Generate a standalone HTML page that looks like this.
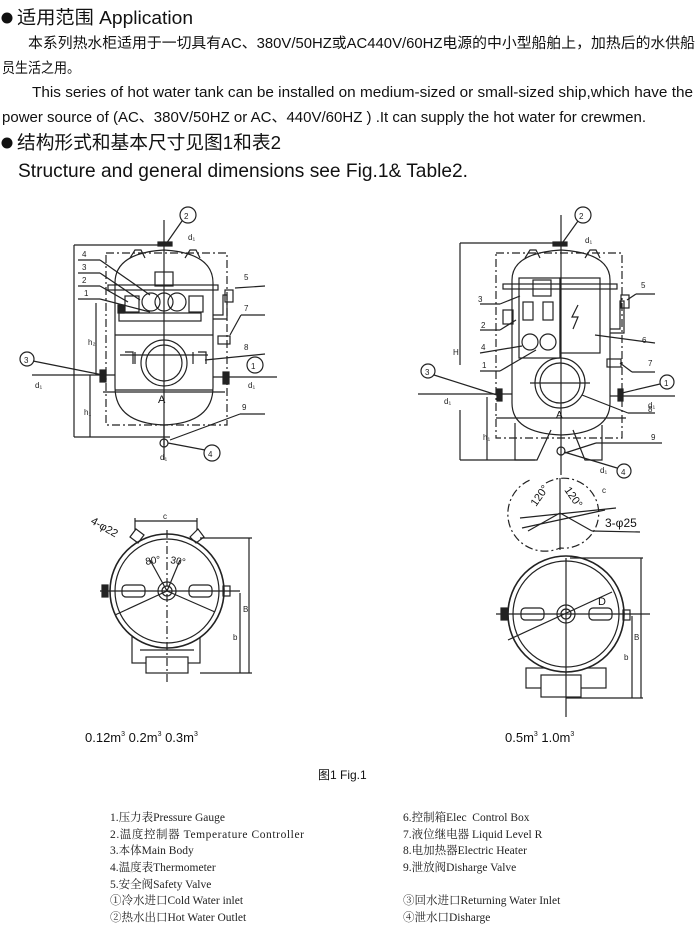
<!DOCTYPE html>
<html><head><meta charset="utf-8"><style>
html,body{margin:0;padding:0;background:#fff;}
svg{display:block;}
.s{font-family:"Liberation Sans","Noto Sans CJK SC",sans-serif;fill:#111;}
.r{font-family:"Liberation Serif","Noto Serif CJK SC",serif;fill:#222;font-size:11.5px;}
.l{font-family:"Liberation Sans",sans-serif;fill:#222;font-size:8px;}
line,path,rect,circle,ellipse,polyline{fill:none;stroke:#222;stroke-width:1.2;}
.d{stroke-dasharray:8 3 2 3;}
</style></head><body>
<svg width="700" height="926" viewBox="0 0 700 926">
<!-- header -->
<circle cx="7" cy="18" r="5.5" style="fill:#111;stroke:none"/>
<text class="s" x="17" y="24" font-size="18.5" textLength="176" lengthAdjust="spacingAndGlyphs">适用范围 Application</text>
<text class="s" x="28" y="48" font-size="14.5" textLength="667" lengthAdjust="spacingAndGlyphs">本系列热水柜适用于一切具有AC、380V/50HZ或AC440V/60HZ电源的中小型船舶上，加热后的水供船</text>
<text class="s" x="2" y="73" font-size="14.5" textLength="78" lengthAdjust="spacingAndGlyphs">员生活之用。</text>
<text class="s" x="32" y="97" font-size="14.5" textLength="661" lengthAdjust="spacingAndGlyphs">This series of hot water tank can be installed on medium-sized or small-sized ship,which have the</text>
<text class="s" x="2" y="122" font-size="14.5" textLength="644" lengthAdjust="spacingAndGlyphs">power source of (AC、380V/50HZ or AC、440V/60HZ ) .It can supply the hot water for crewmen.</text>
<circle cx="7" cy="143" r="5.5" style="fill:#111;stroke:none"/>
<text class="s" x="17" y="149" font-size="18.5" textLength="264" lengthAdjust="spacingAndGlyphs">结构形式和基本尺寸见图1和表2</text>
<text class="s" x="18" y="177" font-size="19.5" textLength="450" lengthAdjust="spacingAndGlyphs">Structure and general dimensions see Fig.1&amp; Table2.</text>

<!-- LEFT ELEVATION -->
<g>
<rect class="d" x="106" y="253" width="121" height="172"/>
<path d="M115 283 Q115 253 164 250 Q213 253 213 283 L213 387 Q213 423 164 425 Q115 423 115 387 Z"/>
<line x1="115" y1="335" x2="213" y2="335"/>
<line x1="115" y1="390" x2="213" y2="390"/>
<line x1="103" y1="392" x2="225" y2="392"/>
<path d="M130 258 l5 -8 h6 l4 8 M185 258 l5 -8 h6 l4 8"/>
<rect x="158" y="242" width="14" height="4" style="fill:#222"/>
<line x1="164" y1="220" x2="164" y2="460"/>
<line x1="74" y1="245" x2="164" y2="245"/>
<line x1="74" y1="245" x2="74" y2="437"/>
<line x1="74" y1="437" x2="170" y2="437"/>
<line x1="90" y1="375" x2="90" y2="437"/>
<line x1="96" y1="303" x2="96" y2="375"/>
<rect x="108" y="285" width="110" height="5"/>
<rect x="155" y="272" width="18" height="14"/>
<circle cx="151" cy="302" r="9"/><circle cx="164" cy="302" r="9"/><circle cx="177" cy="302" r="9"/>
<rect x="125" y="296" width="14" height="16"/><rect x="189" y="296" width="14" height="16"/>
<rect x="118" y="305" width="6" height="8" style="fill:#222"/>
<rect x="119" y="313" width="82" height="8"/>
<circle cx="164" cy="363" r="23"/><circle cx="164" cy="363" r="18"/>
<line x1="120" y1="355" x2="208" y2="355"/>
<path d="M125 352 h8 v12 M198 352 h8 v12 M135 352 v12 M193 352 v12"/>
<rect x="100" y="370" width="6" height="12" style="fill:#222"/>
<rect x="223" y="372" width="6" height="12" style="fill:#222"/>
<line x1="32" y1="375" x2="115" y2="375"/>
<line x1="213" y1="377" x2="277" y2="377"/>
<path d="M213 315 h10 v-20 h4 v24 h-14" /><rect x="225" y="290" width="8" height="12"/>
<rect x="218" y="336" width="12" height="8"/>
<line x1="164" y1="425" x2="164" y2="445"/>
<circle cx="164" cy="443" r="4"/>
<circle cx="188" cy="215" r="8"/><text class="l" x="184" y="219">2</text>
<line x1="182" y1="221" x2="166" y2="244"/>
<circle cx="212" cy="453" r="8"/><text class="l" x="208" y="457">4</text>
<line x1="205" y1="450" x2="168" y2="443"/>
<circle cx="255" cy="365" r="8"/><text class="l" x="251" y="369">1</text>
<circle cx="27" cy="359" r="7"/><text class="l" x="24" y="363">3</text>
<line x1="33" y1="361" x2="103" y2="375"/>
<text class="l" x="248" y="388">d₁</text>
<text class="l" x="188" y="240">d₁</text>
<text class="l" x="160" y="460">d₁</text>
<text class="l" x="35" y="388">d₁</text>
<text class="l" x="244" y="280">5</text><line x1="235" y1="288" x2="265" y2="286"/>
<text class="l" x="244" y="311">7</text><line x1="230" y1="335" x2="241" y2="315"/><line x1="241" y1="315" x2="265" y2="315"/>
<text class="l" x="244" y="350">8</text><line x1="205" y1="360" x2="265" y2="354"/>
<text class="l" x="242" y="410">9</text><line x1="170" y1="440" x2="240" y2="414"/><line x1="240" y1="414" x2="265" y2="414"/>
<text class="l" x="82" y="257">4</text><line x1="78" y1="260" x2="100" y2="260"/><line x1="100" y1="260" x2="150" y2="295"/>
<text class="l" x="82" y="270">3</text><line x1="78" y1="273" x2="100" y2="273"/><line x1="100" y1="273" x2="140" y2="300"/>
<text class="l" x="82" y="283">2</text><line x1="78" y1="286" x2="100" y2="286"/><line x1="100" y1="286" x2="128" y2="302"/>
<text class="l" x="84" y="296">1</text><line x1="78" y1="299" x2="100" y2="299"/><line x1="100" y1="299" x2="150" y2="312"/>
<text class="l" x="88" y="345">h₂</text><text class="l" x="84" y="415">h₁</text>
<text x="158" y="403" class="s" font-size="11">A</text>
</g>

<!-- RIGHT ELEVATION -->
<g>
<rect class="d" x="496" y="253" width="126" height="185"/>
<path d="M512 280 Q512 253 561 250 Q610 253 610 280 L610 403 Q610 433 561 435 Q512 433 512 403 Z"/>
<line x1="496" y1="418" x2="626" y2="418"/>
<path d="M515 423 v37 h22 l14 -30 M573 430 l12 30 h17 v-35"/>
<path d="M525 258 l5 -8 h6 l4 8 M585 258 l5 -8 h6 l4 8"/>
<rect x="553" y="242" width="14" height="4" style="fill:#222"/>
<line x1="561" y1="215" x2="561" y2="475"/>
<rect x="503" y="284" width="114" height="5"/>
<rect x="519" y="278" width="41" height="80"/>
<rect x="560" y="278" width="40" height="75"/>
<rect x="533" y="280" width="18" height="16"/>
<path d="M578 305 l-6 12 h6 l-5 12"/>
<rect x="523" y="302" width="10" height="18"/><rect x="543" y="302" width="10" height="18"/>
<circle cx="530" cy="342" r="8"/><circle cx="548" cy="342" r="8"/>
<rect x="503" y="310" width="10" height="14"/>
<circle cx="560" cy="383" r="25"/><circle cx="560" cy="383" r="20"/>
<line x1="530" y1="383" x2="590" y2="383"/>
<rect x="497" y="389" width="5" height="12" style="fill:#222"/>
<rect x="618" y="389" width="5" height="12" style="fill:#222"/>
<line x1="418" y1="394" x2="512" y2="394"/>
<line x1="610" y1="396" x2="675" y2="396"/>
<path d="M610 329 h10 v-28 h4 v32 h-14"/><rect x="621" y="295" width="8" height="13"/>
<rect x="607" y="359" width="14" height="8"/>
<line x1="460" y1="243" x2="561" y2="243"/>
<line x1="460" y1="243" x2="460" y2="365"/>
<line x1="460" y1="410" x2="460" y2="460"/>
<line x1="460" y1="460" x2="535" y2="460"/>
<line x1="487" y1="397" x2="487" y2="460"/>
<circle cx="561" cy="451" r="4"/>
<circle cx="583" cy="215" r="8"/><text class="l" x="579" y="219">2</text><line x1="578" y1="221" x2="563" y2="242"/>
<circle cx="428" cy="371" r="7"/><text class="l" x="425" y="375">3</text><line x1="434" y1="375" x2="497" y2="395"/>
<circle cx="667" cy="382" r="7"/><text class="l" x="664" y="386">1</text><line x1="660" y1="384" x2="622" y2="393"/>
<circle cx="624" cy="471" r="7"/><text class="l" x="621" y="475">4</text><line x1="617" y1="468" x2="564" y2="452"/>
<text class="l" x="453" y="355">H</text>
<text class="l" x="444" y="404">d₁</text><text class="l" x="648" y="408">d₁</text><text class="l" x="585" y="243">d₁</text><text class="l" x="600" y="473">d₁</text>
<text class="l" x="483" y="440">h₁</text>
<text x="556" y="418" class="s" font-size="10">A</text>
<text class="l" x="641" y="288">5</text><line x1="627" y1="300" x2="636" y2="294"/><line x1="636" y1="294" x2="655" y2="294"/>
<text class="l" x="642" y="343">6</text><line x1="595" y1="335" x2="655" y2="343"/>
<text class="l" x="648" y="366">7</text><line x1="620" y1="363" x2="632" y2="372"/><line x1="632" y1="372" x2="655" y2="372"/>
<text class="l" x="648" y="412">8</text><line x1="582" y1="395" x2="628" y2="413"/><line x1="628" y1="413" x2="655" y2="413"/>
<text class="l" x="651" y="440">9</text><line x1="565" y1="453" x2="596" y2="443"/><line x1="596" y1="443" x2="662" y2="443"/>
<text class="l" x="478" y="302">3</text><line x1="480" y1="304" x2="500" y2="304"/><line x1="500" y1="304" x2="520" y2="296"/>
<text class="l" x="481" y="328">2</text><line x1="480" y1="330" x2="500" y2="330"/><line x1="500" y1="330" x2="516" y2="320"/>
<text class="l" x="481" y="350">4</text><line x1="480" y1="353" x2="522" y2="346"/>
<text class="l" x="482" y="368">1</text><line x1="480" y1="371" x2="500" y2="371"/><line x1="500" y1="371" x2="536" y2="350"/>
</g>

<!-- LEFT PLAN -->
<g>
<rect x="132" y="637" width="68" height="26" style="fill:#fff"/>
<rect x="146" y="657" width="42" height="16" style="fill:#fff"/>
<line x1="140" y1="650" x2="194" y2="650"/>
<circle cx="167" cy="591" r="57" style="fill:#fff;stroke-width:1.6"/><circle cx="167" cy="591" r="52"/>
<line class="d" x1="167" y1="530" x2="167" y2="685"/>
<line x1="100" y1="591" x2="240" y2="591"/>
<circle cx="167" cy="591" r="9"/><circle cx="167" cy="591" r="5"/>
<rect x="122" y="585" width="23" height="12" rx="4"/><rect x="189" y="585" width="23" height="12" rx="4"/>
<rect x="102" y="585" width="6" height="12" style="fill:#222"/>
<rect x="223" y="586" width="7" height="10"/>
<line x1="167" y1="591" x2="150" y2="560"/><line x1="167" y1="591" x2="180" y2="560"/>
<line x1="167" y1="591" x2="115" y2="615"/><line x1="167" y1="591" x2="215" y2="612"/>
<path d="M130 537 l6 -8 l8 6 l-6 8 Z M190 537 l8 -8 l6 8 l-8 6 Z"/>
<line x1="135" y1="521" x2="197" y2="521"/><line x1="135" y1="518" x2="135" y2="530"/><line x1="197" y1="518" x2="197" y2="530"/>
<text class="l" x="163" y="519">c</text>
<text class="s" font-size="11" x="90" y="523" transform="rotate(30 90 523)">4-φ22</text>
<text class="s" font-size="10" x="146" y="565" transform="rotate(-10 146 565)">80°</text>
<text class="s" font-size="10" x="170" y="563" transform="rotate(10 170 563)">30°</text>
<line x1="200" y1="538" x2="252" y2="538"/><line x1="249" y1="538" x2="249" y2="673"/>
<line x1="240" y1="593" x2="240" y2="673"/><line x1="200" y1="673" x2="252" y2="673"/>
<text class="l" x="243" y="612">B</text><text class="l" x="233" y="640">b</text>
</g>

<!-- RIGHT PLAN -->
<g>
<path class="d" d="M546 483 A35 35 0 1 1 560 548 A35 35 0 0 1 530 480"/>
<line x1="560" y1="478" x2="560" y2="550"/>
<line x1="520" y1="518" x2="616" y2="508"/><line x1="522" y1="528" x2="605" y2="510"/>
<line x1="560" y1="513" x2="528" y2="531"/><line x1="560" y1="513" x2="592" y2="531"/>
<line x1="592" y1="531" x2="640" y2="532"/>
<text class="s" font-size="11" x="536" y="507" transform="rotate(-55 536 507)">120°</text>
<text class="s" font-size="11" x="564" y="490" transform="rotate(55 564 490)">120°</text>
<text class="l" x="602" y="493">c</text>
<text class="s" font-size="12" x="605" y="527">3-φ25</text>
<rect x="526" y="668" width="80" height="20" style="fill:#fff"/>
<rect x="541" y="675" width="40" height="22" style="fill:#fff"/>
<circle cx="566" cy="614" r="58" style="fill:#fff;stroke-width:1.6"/><circle cx="566" cy="614" r="53"/>
<line x1="566" y1="558" x2="566" y2="717"/>
<line x1="496" y1="614" x2="650" y2="614"/>
<circle cx="566" cy="614" r="9"/><circle cx="566" cy="614" r="5"/>
<rect x="521" y="608" width="23" height="12" rx="4"/><rect x="589" y="608" width="23" height="12" rx="4"/>
<rect x="501" y="608" width="6" height="12" style="fill:#222"/>
<rect x="623" y="610" width="7" height="10"/>
<line x1="508" y1="640" x2="612" y2="592"/>
<text class="s" font-size="11" x="598" y="605">D</text>
<line x1="570" y1="558" x2="643" y2="558"/><line x1="641" y1="558" x2="641" y2="698"/>
<line x1="632" y1="616" x2="632" y2="698"/><line x1="566" y1="698" x2="643" y2="698"/>
<text class="l" x="634" y="640">B</text><text class="l" x="624" y="660">b</text>
</g>

<text class="s" font-size="13" x="85" y="742">0.12m<tspan font-size="7" dy="-6">3</tspan><tspan dy="6"> 0.2m</tspan><tspan font-size="7" dy="-6">3</tspan><tspan dy="6"> 0.3m</tspan><tspan font-size="7" dy="-6">3</tspan></text>
<text class="s" font-size="13" x="505" y="742">0.5m<tspan font-size="7" dy="-6">3</tspan><tspan dy="6"> 1.0m</tspan><tspan font-size="7" dy="-6">3</tspan></text>
<text class="s" font-size="12" x="318" y="779">图1 Fig.1</text>

<!-- legend -->
<text class="r" x="110" y="821">1.压力表Pressure Gauge</text>
<text class="r" x="110" y="838" textLength="194">2.温度控制器 Temperature Controller</text>
<text class="r" x="110" y="854">3.本体Main Body</text>
<text class="r" x="110" y="871">4.温度表Thermometer</text>
<text class="r" x="110" y="888">5.安全阀Safety Valve</text>
<text class="r" x="110" y="904">①冷水进口Cold Water inlet</text>
<text class="r" x="110" y="921">②热水出口Hot Water Outlet</text>
<text class="r" x="403" y="821">6.控制箱Elec&#160;&#160;Control Box</text>
<text class="r" x="403" y="838">7.液位继电器 Liquid Level R</text>
<text class="r" x="403" y="854">8.电加热器Electric Heater</text>
<text class="r" x="403" y="871">9.泄放阀Disharge Valve</text>
<text class="r" x="403" y="904">③回水进口Returning Water Inlet</text>
<text class="r" x="403" y="921">④泄水口Disharge</text>
</svg>
</body></html>
